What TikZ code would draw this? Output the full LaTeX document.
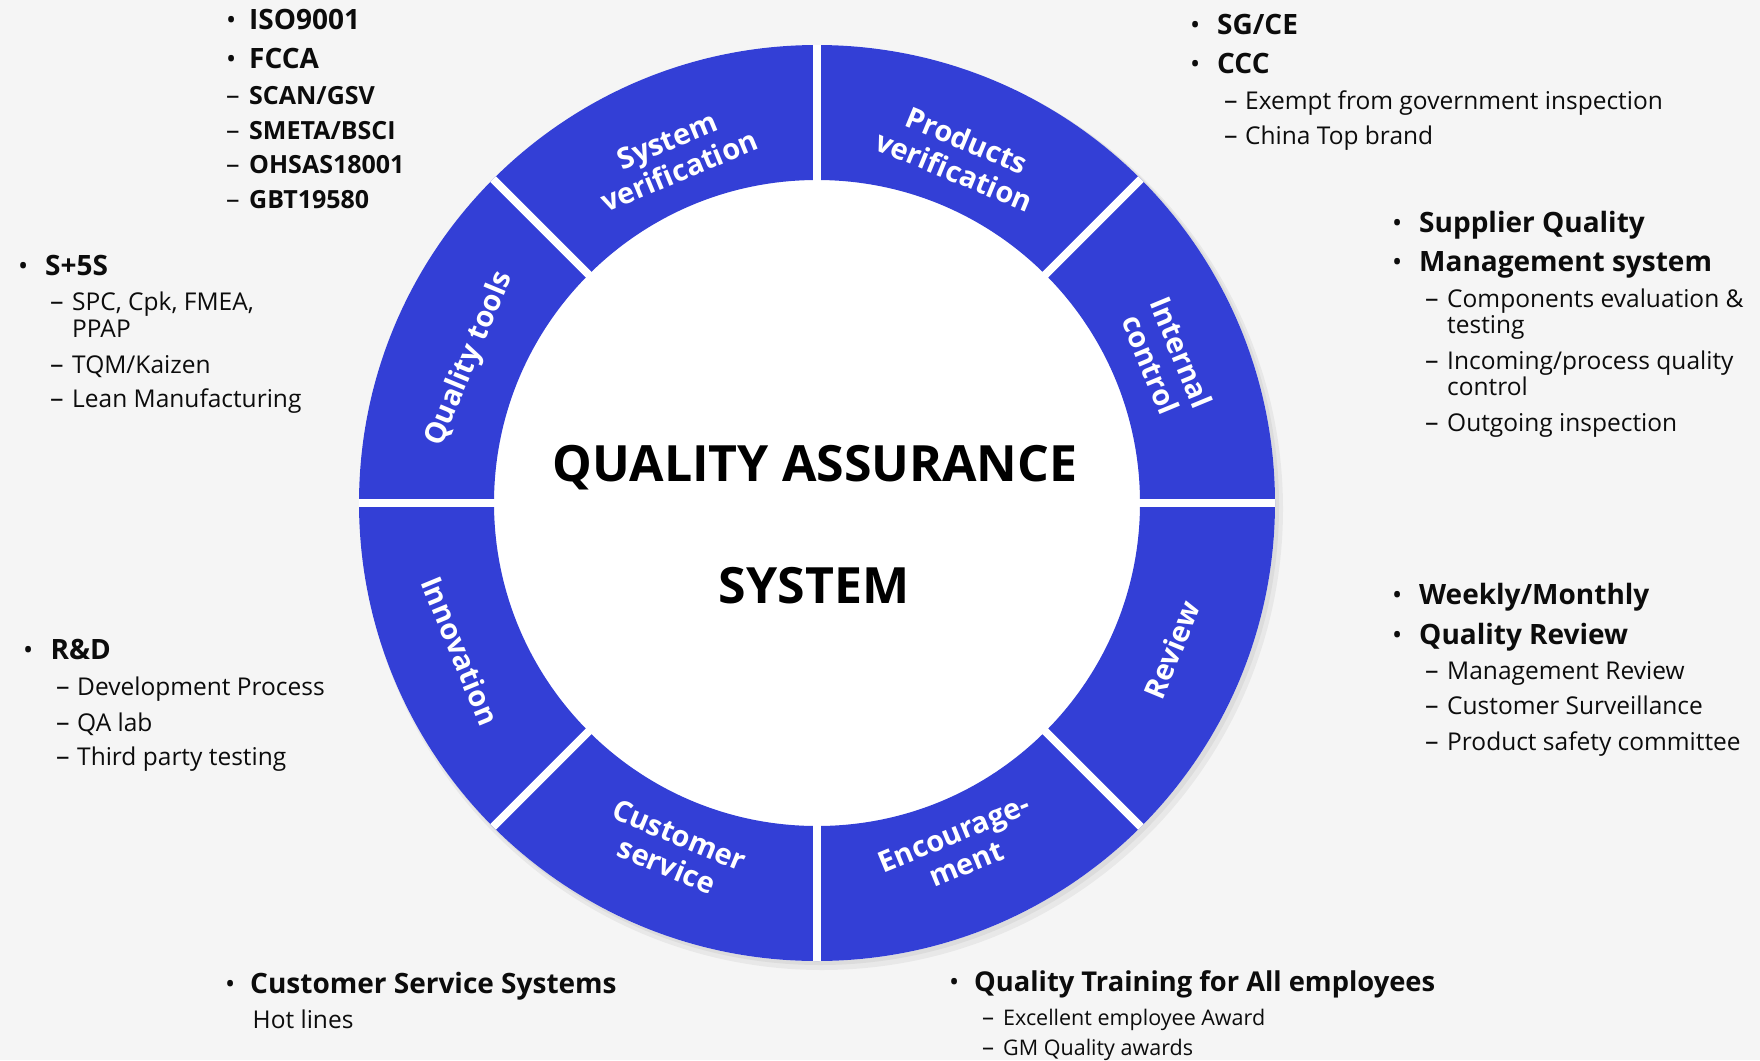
\documentclass[tikz,border=0pt]{standalone}
\usepackage{fontspec}
\setmainfont{Open Sans}
\definecolor{ringblue}{RGB}{51,63,214}
\definecolor{bgc}{RGB}{245,245,245}
\definecolor{txt}{RGB}{12,12,12}
\begin{document}
\begin{tikzpicture}[x=1pt,y=-1pt,
  lbl/.style={text=white, font=\bfseries\fontsize{29}{33}\selectfont, align=center, inner sep=0pt},
  title/.style={anchor=base, inner sep=0pt, text=black, font=\bfseries\fontsize{50}{60}\selectfont},
  head/.style={anchor=base west, inner sep=0pt, text=txt, font=\bfseries\fontsize{28}{34}\selectfont},
  headsm/.style={anchor=base west, inner sep=0pt, text=txt, font=\bfseries\fontsize{25}{30}\selectfont},
  item/.style={anchor=base west, inner sep=0pt, text=txt, font=\fontsize{24.5}{30}\selectfont},
  itemsm/.style={anchor=base west, inner sep=0pt, text=txt, font=\fontsize{21.5}{26}\selectfont},
  dot/.style={anchor=base west, inner sep=0pt, text=txt, font=\fontsize{27}{30}\selectfont},
  dsh/.style={anchor=base west, inner sep=0pt, text=txt, font=\fontsize{27}{30}\selectfont},
]
\fill[bgc] (0,0) rectangle (1760,1060);
\useasboundingbox (0,0) rectangle (1760,1060);

% ring
\begin{scope}[shift={(817,503)}, yscale=-1]
  \fill[black, opacity=0.05] (5,-6) circle (461);
  \fill[black, opacity=0.05] (3,-3) circle (459);
  \fill[white] (0,0) circle (458);
  \fill[ringblue, even odd rule] (0,0) circle (458) (0,0) circle (323);
  \begin{scope}
    \clip (0,0) circle (458);
    \foreach \a in {0,45,...,315} \draw[white, line width=8] (\a:318) -- (\a:463);
  \end{scope}
  \node[lbl, rotate=22.5]  (sv) at (112.5:376) {System\\verification};
  \node[lbl, rotate=-22.5] (pv) at (67.5:376)  {Products\\verification};
  \node[lbl, rotate=-67.5] (ic) at (22.5:378)  {Internal\\control};
  \node[lbl, rotate=67.5]  (rv) at (-22.5:384) {Review};
  \node[lbl, rotate=22.5]  (en) at (-67.5:374) {Encourage-\\ment};
  \node[lbl, rotate=-22.5] (cs) at (-112.5:376) {Customer\\service};
  \node[lbl, rotate=-67.5] (in) at (-157.5:386) {Innovation};
  \node[lbl, rotate=67.5]  (qt) at (157.5:376) {Quality tools};
\end{scope}

% centre title
\node[title] (qa) at (815,481) {QUALITY ASSURANCE};
\node[title] (sy) at (814,603) {SYSTEM};

% top-left block
\node[dot] (b11) at (226,29) {•};  \node[head] (t11) at (249,29) {ISO9001};
\node[dot] (b12) at (226,68) {•};  \node[head] (t12) at (249,68) {FCCA};
\node[dsh] (d13) at (226,104) {–}; \node[headsm] (t13) at (249,104) {SCAN/GSV};
\node[dsh] (d14) at (226,139) {–}; \node[headsm] (t14) at (249,139) {SMETA/BSCI};
\node[dsh] (d15) at (226,173) {–}; \node[headsm] (t15) at (249,173) {OHSAS18001};
\node[dsh] (d16) at (226,208) {–}; \node[headsm] (t16) at (249,208) {GBT19580};

% left block
\node[dot] (b21) at (18,275) {•};  \node[head] (t21) at (45,275) {S+5S};
\node[dsh] (d22) at (50,310) {–};  \node[item] (t22) at (72,310) {SPC, Cpk, FMEA,};
\node[item] (t23) at (72,337) {PPAP};
\node[dsh] (d24) at (50,373) {–};  \node[item] (t24) at (72,373) {TQM/Kaizen};
\node[dsh] (d25) at (50,407) {–};  \node[item] (t25) at (72,407) {Lean Manufacturing};

% top-right block
\node[dot] (b31) at (1190,34) {•};  \node[head] (t31) at (1217,34) {SG/CE};
\node[dot] (b32) at (1190,73) {•};  \node[head] (t32) at (1217,73) {CCC};
\node[dsh] (d33) at (1224,109) {–}; \node[item] (t33) at (1245,109) {Exempt from government inspection};
\node[dsh] (d34) at (1224,144) {–}; \node[item] (t34) at (1245,144) {China Top brand};

% right block 1
\node[dot] (b41) at (1392,232) {•};   \node[head] (t41) at (1419,232) {Supplier Quality};
\node[dot] (b42) at (1392,271.5) {•}; \node[head] (t42) at (1419,271.5) {Management system};
\node[dsh] (d43) at (1425,307) {–};   \node[item] (t43) at (1447,307) {Components evaluation \&};
\node[item] (t44) at (1447,333) {testing};
\node[dsh] (d45) at (1425,369) {–};   \node[item] (t45) at (1447,369) {Incoming/process quality};
\node[item] (t46) at (1447,395) {control};
\node[dsh] (d47) at (1425,431) {–};   \node[item] (t47) at (1447,431) {Outgoing inspection};

% right block 2
\node[dot] (b51) at (1392,604) {•}; \node[head] (t51) at (1419,604) {Weekly/Monthly};
\node[dot] (b52) at (1392,644) {•}; \node[head] (t52) at (1419,644) {Quality Review};
\node[dsh] (d53) at (1425,679) {–}; \node[item] (t53) at (1447,679) {Management Review};
\node[dsh] (d54) at (1425,714) {–}; \node[item] (t54) at (1447,714) {Customer Surveillance};
\node[dsh] (d55) at (1425,750) {–}; \node[item] (t55) at (1447,750) {Product safety committee};

% left block 2
\node[dot] (b61) at (23,659) {•};  \node[head] (t61) at (50.5,659) {R\&D};
\node[dsh] (d62) at (56,695) {–};  \node[item] (t62) at (77,695) {Development Process};
\node[dsh] (d63) at (56,731) {–};  \node[item] (t63) at (77,731) {QA lab};
\node[dsh] (d64) at (56,765) {–};  \node[item] (t64) at (77,765) {Third party testing};

% bottom-left block
\node[dot] (b71) at (225,993) {•}; \node[head] (t71) at (250,993) {Customer Service Systems};
\node[item] (t72) at (252.5,1028) {Hot lines};

% bottom-right block
\node[dot] (b81) at (949,991) {•};  \node[head, font=\bfseries\fontsize{27.3}{33}\selectfont] (t81) at (974,991) {Quality Training for All employees};
\node[dsh, font=\fontsize{24}{28}\selectfont] (d82) at (982,1025) {–}; \node[itemsm] (t82) at (1003,1025) {Excellent employee Award};
\node[dsh, font=\fontsize{24}{28}\selectfont] (d83) at (982,1055) {–}; \node[itemsm] (t83) at (1003,1055) {GM Quality awards};
\end{tikzpicture}
\end{document}
